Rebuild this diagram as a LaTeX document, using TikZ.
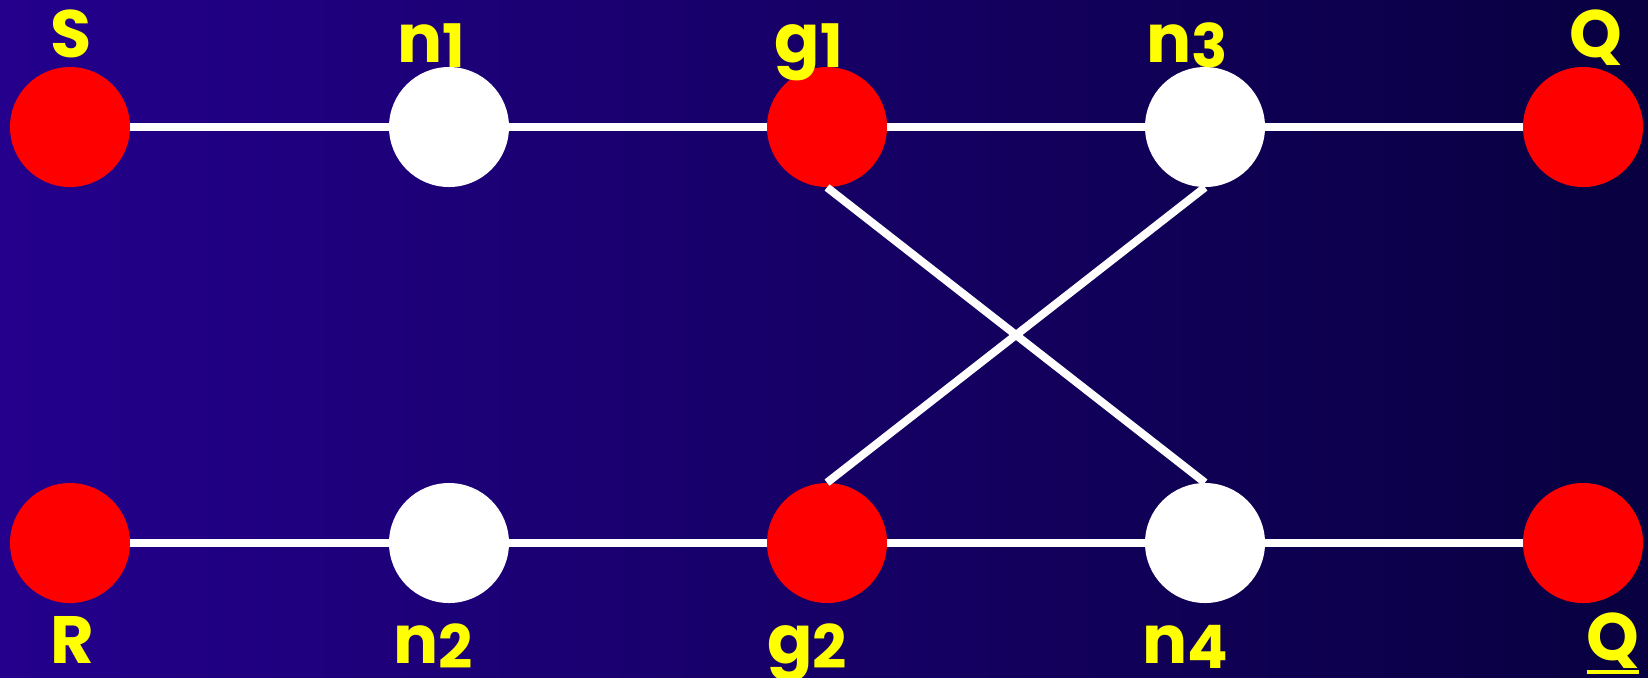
\documentclass[tikz,border=0pt]{standalone}
\usepackage{fontspec}
\setmainfont{Poppins}
\definecolor{bgL}{RGB}{36,0,140}
\definecolor{bgR}{RGB}{8,0,64}
\definecolor{lblY}{RGB}{255,255,0}
\definecolor{nodeR}{RGB}{255,0,0}
\newcommand\dg[1]{\raisebox{-2.5pt}{\fontsize{30}{30}\selectfont #1}}
\newcommand\ubar[1]{\leavevmode\vtop{\hbox{#1}\kern1.2pt\hrule height 1.6pt}}
\tikzset{
  dot/.style={circle, minimum size=60pt, inner sep=0pt, draw=none},
  reddot/.style={dot, fill=nodeR},
  whitedot/.style={dot, fill=white},
  lab/.style={text=lblY, font=\fontsize{33.5}{33.5}\selectfont\bfseries, inner sep=0pt, anchor=base},
  wire/.style={white, line width=4pt}
}
\begin{document}
\begin{tikzpicture}[x=0.5pt, y=-0.5pt]
\shade[left color=bgL, right color=bgR] (0,0) rectangle (1648,677);
\useasboundingbox (0,0) rectangle (1648,677);
% nodes
\node[reddot] (S) at (70,127) {};
\node[whitedot] (n1) at (449,127) {};
\node[reddot] (g1) at (827,127) {};
\node[whitedot] (n3) at (1205,127) {};
\node[reddot] (Q) at (1583,127) {};
\node[reddot] (R) at (70,543) {};
\node[whitedot] (n2) at (449,543) {};
\node[reddot] (g2) at (827,543) {};
\node[whitedot] (n4) at (1205,543) {};
\node[reddot] (Qb) at (1583,543) {};
% wires
\draw[wire] (S) -- (n1);
\draw[wire] (n1) -- (g1);
\draw[wire] (g1) -- (n3);
\draw[wire] (n3) -- (Q);
\draw[wire] (R) -- (n2);
\draw[wire] (n2) -- (g2);
\draw[wire] (g2) -- (n4);
\draw[wire] (n4) -- (Qb);
\draw[wire] (g1.south) -- (n4.north);
\draw[wire] (n3.south) -- (g2.north);
% labels
\node[lab] (lS) at (71,57) {S};
\node[lab] (ln1) at (431,62) {n\dg{1}};
\node[lab] (lg1) at (809,62) {g\dg{1}};
\node[lab] (ln3) at (1187,62) {n\dg{3}};
\node[lab] (lQ) at (1596,57) {Q};
\node[lab] (lR) at (72,663) {R};
\node[lab] (ln2) at (433,663) {n\dg{2}};
\node[lab] (lg2) at (807,663) {g\dg{2}};
\node[lab] (ln4) at (1185,663) {n\dg{4}};
\node[lab] (lQb) at (1613,660) {\ubar{Q}};
\end{tikzpicture}
\end{document}
